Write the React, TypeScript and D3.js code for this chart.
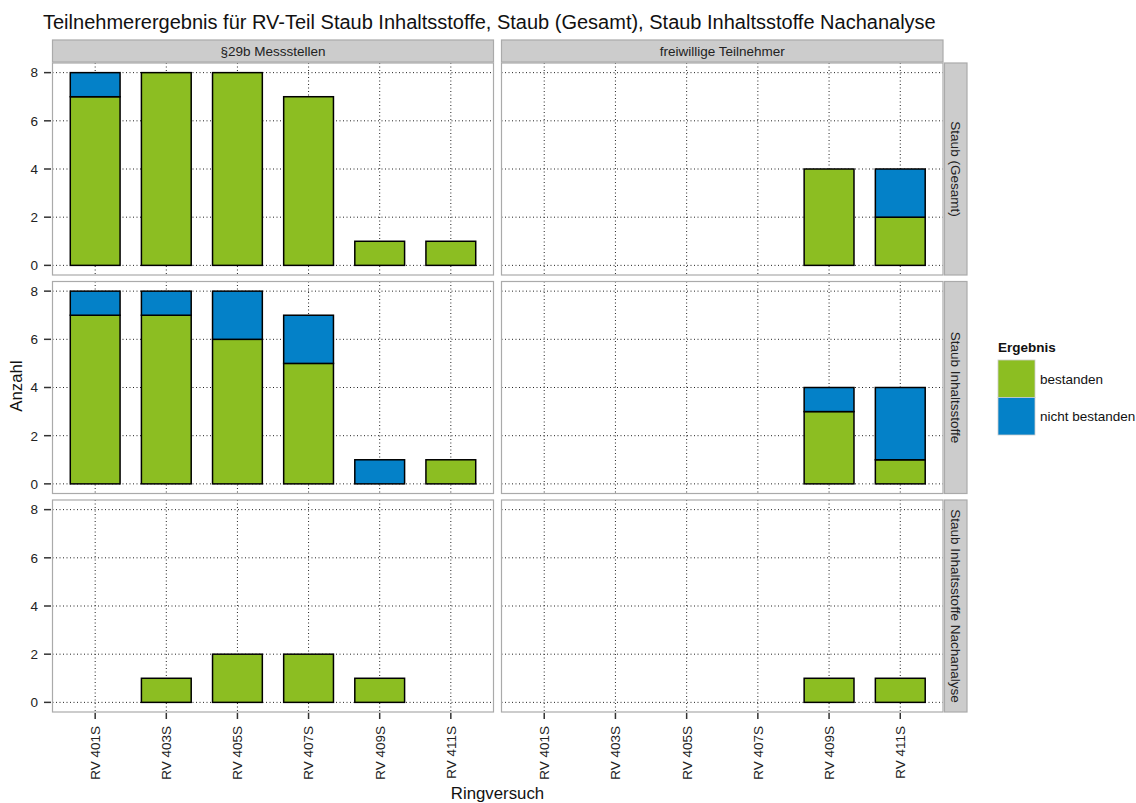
import React from "react";
import * as d3 from "d3";

const categories = ["RV 401S", "RV 403S", "RV 405S", "RV 407S", "RV 409S", "RV 411S"];
const colPanels = ["§29b Messstellen", "freiwillige Teilnehmer"];
const rowPanels = ["Staub (Gesamt)", "Staub Inhaltsstoffe", "Staub Inhaltsstoffe Nachanalyse"];
const resultLevels = ["bestanden", "nicht bestanden"];
const yTicks = [0, 2, 4, 6, 8];

// bestanden / nicht bestanden counts per [row][col][category]
const bestanden = [
  [[7, 8, 8, 7, 1, 1], [0, 0, 0, 0, 4, 2]],
  [[7, 7, 6, 5, 0, 1], [0, 0, 0, 0, 3, 1]],
  [[0, 1, 2, 2, 1, 0], [0, 0, 0, 0, 1, 1]],
];
const nichtBestanden = [
  [[1, 0, 0, 0, 0, 0], [0, 0, 0, 0, 0, 2]],
  [[1, 1, 2, 2, 1, 0], [0, 0, 0, 0, 1, 3]],
  [[0, 0, 0, 0, 0, 0], [0, 0, 0, 0, 0, 0]],
];

const colors = ["#8cbe22", "#0481c8"];
const FONT = "Liberation Sans, Arial, sans-serif";
const SMALL = 13.5;

export default function App() {
  const W = 1136, H = 803;
  const colX = [
    [52.5, 493.5],
    [501.5, 943],
  ];
  const rowY = [
    [63, 275],
    [281.5, 493.5],
    [500, 712],
  ];
  const stripTop = 40;
  const stripRightX = [944.5, 967];

  const els: React.ReactNode[] = [];

  rowPanels.forEach((rowName, ri) => {
    const [y0, y1] = rowY[ri];
    const y = d3.scaleLinear().domain([-0.4, 8.4]).range([y1, y0]);
    colPanels.forEach((colName, ci) => {
      const [x0, x1] = colX[ci];
      const x = d3.scaleBand().domain(categories).range([x0, x1]).paddingOuter(0.1).paddingInner(0);
      const step = x.step();
      const cx = (c: string) => (x(c) as number) + step / 2;
      const bw = step * 0.7;
      els.push(
        <rect key={`bg${ri}${ci}`} x={x0} y={y0} width={x1 - x0} height={y1 - y0} fill="#fff" />
      );
      yTicks.forEach((t) => {
        els.push(
          <line key={`gy${ri}${ci}${t}`} x1={x0} x2={x1} y1={y(t)} y2={y(t)} stroke="#222" strokeWidth={1} strokeDasharray="1,2.5" />
        );
      });
      categories.forEach((c) => {
        els.push(
          <line key={`gx${ri}${ci}${c}`} x1={cx(c)} x2={cx(c)} y1={y0} y2={y1} stroke="#222" strokeWidth={1} strokeDasharray="1,2.5" />
        );
      });
      categories.forEach((c, k) => {
        const b = bestanden[ri][ci][k];
        const n = nichtBestanden[ri][ci][k];
        if (b > 0) {
          els.push(
            <rect key={`b${ri}${ci}${k}`} x={cx(c) - bw / 2} y={y(b)} width={bw} height={y(0) - y(b)} fill={colors[0]} stroke="#000" strokeWidth={1.5} />
          );
        }
        if (n > 0) {
          els.push(
            <rect key={`n${ri}${ci}${k}`} x={cx(c) - bw / 2} y={y(b + n)} width={bw} height={y(b) - y(b + n)} fill={colors[1]} stroke="#000" strokeWidth={1.5} />
          );
        }
      });
      els.push(
        <rect key={`bd${ri}${ci}`} x={x0} y={y0} width={x1 - x0} height={y1 - y0} fill="none" stroke="#aaaaaa" strokeWidth={1.2} />
      );
      if (ci === 0) {
        yTicks.forEach((t) => {
          els.push(<line key={`yt${ri}${t}`} x1={44} x2={51} y1={y(t)} y2={y(t)} stroke="#333" strokeWidth={1.5} />);
          els.push(
            <text key={`yl${ri}${t}`} x={38} y={y(t)} dy="0.36em" textAnchor="end" fontSize={SMALL} fill="#222" fontFamily={FONT}>{t}</text>
          );
        });
      }
      if (ri === rowPanels.length - 1) {
        categories.forEach((c) => {
          els.push(<line key={`xt${ci}${c}`} x1={cx(c)} x2={cx(c)} y1={y1 + 1} y2={y1 + 7} stroke="#333" strokeWidth={1.5} />);
          els.push(
            <text key={`xl${ci}${c}`} transform={`translate(${cx(c)},${y1 + 14}) rotate(-90)`} dy="0.36em" textAnchor="end" fontSize={SMALL} fill="#222" fontFamily={FONT}>{c}</text>
          );
        });
      }
      if (ri === 0) {
        els.push(
          <rect key={`st${ci}`} x={x0} y={stripTop} width={x1 - x0} height={y0 - stripTop - 1} fill="#cccccc" stroke="#aaaaaa" strokeWidth={1.2} />
        );
        els.push(
          <text key={`stt${ci}`} x={(x0 + x1) / 2} y={(stripTop + y0) / 2} dy="0.36em" textAnchor="middle" fontSize={SMALL} fill="#222" fontFamily={FONT}>{colName}</text>
        );
      }
    });
    els.push(
      <rect key={`sr${ri}`} x={stripRightX[0]} y={y0} width={stripRightX[1] - stripRightX[0]} height={y1 - y0} fill="#cccccc" stroke="#aaaaaa" strokeWidth={1.2} />
    );
    els.push(
      <text key={`srt${ri}`} transform={`translate(${(stripRightX[0] + stripRightX[1]) / 2},${(y0 + y1) / 2}) rotate(90)`} dy="0.36em" textAnchor="middle" fontSize={SMALL} fill="#222" fontFamily={FONT}>{rowName}</text>
    );
  });

  return (
    <svg width={W} height={H} style={{ position: "absolute", left: 0, top: 0 }} xmlns="http://www.w3.org/2000/svg">
      <rect x={0} y={0} width={W} height={H} fill="#fff" />
      <text x={43} y={29} fontSize={20} fill="#111" fontFamily={FONT}>
        Teilnehmerergebnis für RV-Teil Staub Inhaltsstoffe, Staub (Gesamt), Staub Inhaltsstoffe Nachanalyse
      </text>
      {els}
      <text transform={`translate(22,386) rotate(-90)`} textAnchor="middle" fontSize={16.8} fill="#111" fontFamily={FONT}>Anzahl</text>
      <text x={497.5} y={799} textAnchor="middle" fontSize={16.8} fill="#111" fontFamily={FONT}>Ringversuch</text>
      <text x={998} y={352} fontSize={SMALL} fontWeight="bold" fill="#111" fontFamily={FONT}>Ergebnis</text>
      {resultLevels.map((lvl, i) => (
        <g key={lvl}>
          <rect x={998} y={360 + i * 37.5} width={37} height={37.5} fill={colors[i]} stroke="#cccccc" strokeWidth={0.8} />
          <text x={1040} y={360 + i * 37.5 + 18.75} dy="0.36em" fontSize={SMALL} fill="#111" fontFamily={FONT}>{lvl}</text>
        </g>
      ))}
    </svg>
  );
}
